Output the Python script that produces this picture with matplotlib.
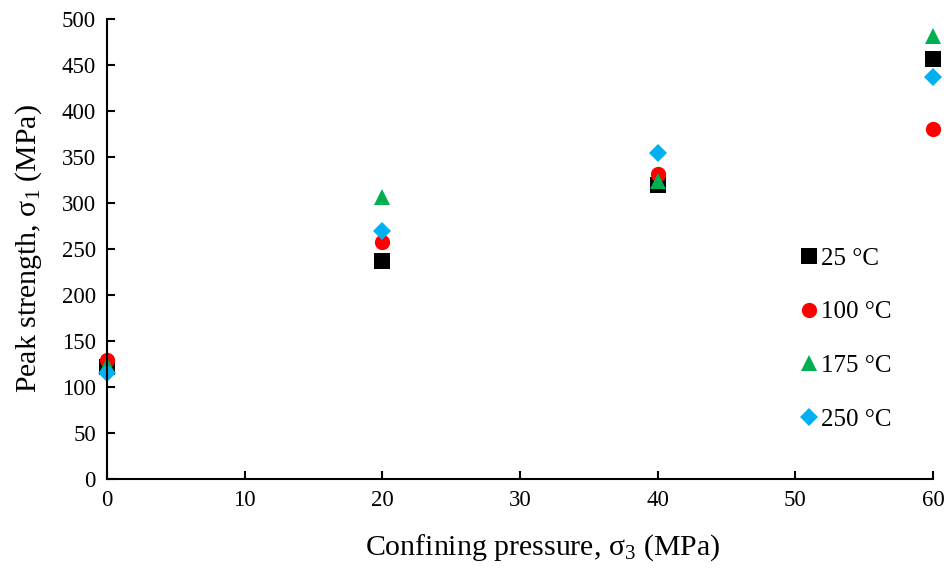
import matplotlib
matplotlib.use('Agg')
import matplotlib.pyplot as plt

plt.rcParams['font.family'] = ['Liberation Serif', 'DejaVu Serif']
plt.rcParams['mathtext.fontset'] = 'custom'
plt.rcParams['mathtext.rm'] = 'Liberation Serif'
plt.rcParams['mathtext.it'] = 'Liberation Serif:italic'

pressure = [0, 20, 40, 60]
labels = ['25 °C', '100 °C', '175 °C', '250 °C']
s_25 = [122, 237, 320, 457]
s_100 = [129, 258, 332, 381]
s_175 = [124, 306, 324, 482]
s_250 = [115, 270, 354, 437]

series = [s_25, s_100, s_175, s_250]
colors = ['black', '#ff0000', '#00b050', '#00b0f0']
markers = ['s', 'o', '^', 'D']
msizes = [11, 11, 12, 9]

fig = plt.figure(figsize=(9.5, 5.68), dpi=100)
ax = fig.add_axes([0.1126, 0.1567, 0.8695, 0.8098])

for ys, c, m, ms, lab in zip(series, colors, markers, msizes, labels):
    ax.plot(pressure, ys, linestyle='none', marker=m, color=c, markersize=ms,
            markeredgewidth=0, label=lab, clip_on=False)

ax.set_xlim(0, 60)
ax.set_ylim(0, 500)
ax.set_xticks(range(0, 61, 10))
ax.set_yticks(range(0, 501, 50))
ax.spines['top'].set_visible(False)
ax.spines['right'].set_visible(False)
ax.spines['left'].set_linewidth(1.5)
ax.spines['bottom'].set_linewidth(1.5)
ax.tick_params(direction='in', length=6, width=1.5, labelsize=16.5, pad=8)
ax.set_xlabel(r'Confining pressure, σ$_\mathregular{3}$ (MPa)', fontsize=21.5, labelpad=15)
ax.set_ylabel(r'Peak strength, σ$_\mathregular{1}$ (MPa)', fontsize=21.5, labelpad=13)
ax.xaxis.label.set_x(0.528)  # подпись в оригинале чуть правее центра

ax.legend(loc='center left', bbox_to_anchor=(0.831, 0.403), bbox_transform=fig.transFigure,
          frameon=False, fontsize=18, labelspacing=1.25, handlelength=0.8,
          handletextpad=0.05, borderaxespad=0)

fig.savefig('out.png', dpi=100)
